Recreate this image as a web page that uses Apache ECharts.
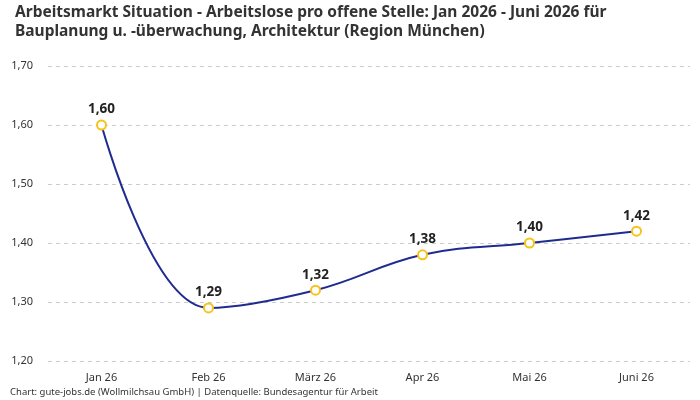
<!DOCTYPE html>
<html><head><meta charset="utf-8">
<script src="https://cdn.jsdelivr.net/npm/echarts@6/dist/echarts.min.js"></script>
<style>html,body{margin:0;padding:0;background:#fff}#c{width:700px;height:400px}</style>
</head><body><div id="c"></div>
<script>
const categories = ['Jan 26', 'Feb 26', 'März 26', 'Apr 26', 'Mai 26', 'Juni 26'];
const values = [1.60, 1.29, 1.32, 1.38, 1.40, 1.42];
const yTicks = [1.2, 1.3, 1.4, 1.5, 1.6, 1.7];
const fmt = v => v.toFixed(2).replace('.', ',');
const chart = echarts.init(document.getElementById('c'));
chart.setOption({
  animation: false,
  title: {
    text: 'Arbeitsmarkt Situation - Arbeitslose pro offene Stelle: Jan 2026 - Juni 2026 für\nBauplanung u. -überwachung, Architektur (Region München)',
    left: 10, top: -2,
    textStyle: { fontFamily: 'Noto Sans', fontSize: 15.5, fontWeight: 'bold', color: '#333', lineHeight: 19 }
  },
  graphic: [{
    type: 'text', left: 10, top: 387,
    style: { text: 'Chart: gute-jobs.de (Wollmilchsau GmbH) | Datenquelle: Bundesagentur für Arbeit', font: '9.5px "Noto Sans"', fill: '#333' }
  }],
  grid: { left: 48, right: 10, top: 66, bottom: 39, outerBoundsMode: 'none', containLabel: false },
  xAxis: {
    type: 'category', data: categories, boundaryGap: true,
    axisLine: { show: false }, axisTick: { show: false },
    axisLabel: { color: '#333', fontFamily: 'Noto Sans', fontSize: 11, margin: 11 }
  },
  yAxis: {
    type: 'value', min: yTicks[0], max: yTicks[yTicks.length - 1], interval: 0.1,
    axisLabel: { formatter: v => fmt(v), color: '#333', fontFamily: 'Noto Sans', fontSize: 11, margin: 15 },
    splitLine: { lineStyle: { type: [4, 4], color: '#ccc' } }
  },
  series: [{
    type: 'line', data: values, smooth: 0.4,
    lineStyle: { color: '#1f2b8f', width: 2 },
    symbol: 'circle', symbolSize: 9,
    itemStyle: { color: '#fff', borderColor: '#f7c31a', borderWidth: 2 },
    label: { show: true, position: 'top', distance: 3, formatter: p => fmt(p.value), fontFamily: 'Noto Sans', fontWeight: 'bold', fontSize: 13.5, color: '#222' }
  }]
});
</script></body></html>
